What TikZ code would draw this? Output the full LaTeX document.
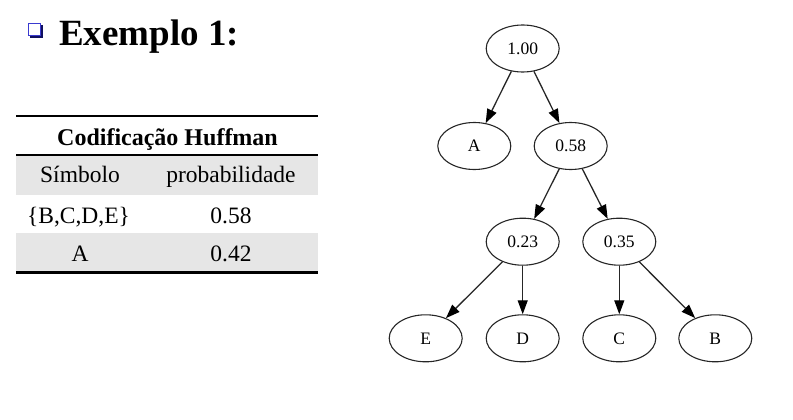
\documentclass[tikz,border=0pt]{standalone}
\usepackage{fontspec}
\setmainfont{Liberation Serif}
\usetikzlibrary{shapes.geometric,arrows.meta}
\definecolor{rowgray}{HTML}{E6E6E6}
\definecolor{edgecol}{HTML}{262626}
\definecolor{bulletblue}{HTML}{3A3AD0}
\definecolor{bulletnavy}{HTML}{101060}
\tikzset{
  treenode/.style={ellipse, draw=edgecol, line width=1.1pt, minimum width=73pt, minimum height=47pt, inner sep=0pt, font=\fontsize{17.5}{20}\selectfont},
  treeedge/.style={draw=edgecol, line width=1.3pt, -{Triangle[length=14pt,width=10pt,fill=black,color=black]}},
  celltext/.style={anchor=base, inner sep=0pt, font=\fontsize{23.5}{26}\selectfont},
  rulethick/.style={line width=2.4pt, black},
  rulethin/.style={line width=1.5pt, black}
}
\begin{document}
\begin{tikzpicture}[x=1pt,y=-1pt]
\useasboundingbox (0,0) rectangle (793,420);
% bullet
\fill[bulletnavy] (30,25) rectangle (43,38);
\fill[white] (28,23) rectangle (41,36);
\draw[bulletblue, line width=1pt] (28.5,23.5) rectangle (40.5,35.5);
\node[anchor=base west, inner sep=0pt, font=\fontsize{37}{42}\bfseries\selectfont] (title) at (59,46) {Exemplo 1:};
% table
\fill[rowgray] (16,156) rectangle (318,195);
\fill[rowgray] (16,233) rectangle (318,271.5);
\draw[rulethick] (16,116) -- (318,116);
\draw[rulethin] (16,155) -- (318,155);
\draw[rulethick] (16,272.5) -- (318,272.5);
\node[celltext, font=\fontsize{24}{27}\bfseries\selectfont] (hdr) at (167.5,145) {Codificação Huffman};
\node[celltext] (c11) at (80,182.5) {Símbolo};
\node[celltext] (c12) at (231,182.5) {probabilidade};
\node[celltext] (c21) at (78.5,223) {\{B,C,D,E\}};
\node[celltext] (c22) at (231,223) {0.58};
\node[celltext] (c31) at (80,261.5) {A};
\node[celltext] (c32) at (231,261.5) {0.42};
% tree
\node[treenode] (n100) at (522.7,48.5) {1.00};
\node[treenode] (nA) at (474.3,146) {A};
\node[treenode] (n058) at (570.7,146) {0.58};
\node[treenode] (n023) at (522.7,241.7) {0.23};
\node[treenode] (n035) at (619.3,241.7) {0.35};
\node[treenode] (nE) at (425.7,338.3) {E};
\node[treenode] (nD) at (522.7,338.3) {D};
\node[treenode] (nC) at (619.3,338.3) {C};
\node[treenode] (nB) at (715.3,338.3) {B};
\draw[treeedge] (n100) -- (nA);
\draw[treeedge] (n100) -- (n058);
\draw[treeedge] (n058) -- (n023);
\draw[treeedge] (n058) -- (n035);
\draw[treeedge] (n023) -- (nE);
\draw[treeedge] (n023) -- (nD);
\draw[treeedge] (n035) -- (nC);
\draw[treeedge] (n035) -- (nB);
\end{tikzpicture}
\end{document}
